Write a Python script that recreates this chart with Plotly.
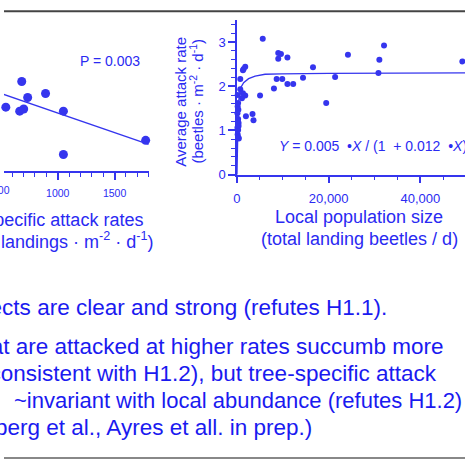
import plotly.graph_objects as go

# ---------------- data ----------------
# left panel (tree-specific attack rates vs. response; y axis lies outside the crop)
left_x = [500, 518, 544, 666, 684, 701, 736, 893, 1050, 1050, 1773]
left_y = [1.76, 0.90, 1.45, 1.36, 2.03, 1.41, 1.67, 1.76, 1.36, 0.38, 0.70]
left_line_x = [400, 1800]
left_line_y = [1.85, 0.61]

# right panel: local population size vs average attack rate
right_x = [5620, 9000, 9590, 9000, 11000, 16580, 1800, 1450, 1300, 720,
           8650, 9880, 11000, 12260, 14400, 8060, 720, 5030, 1800, 1080,
           150, 250, 1300, 150, 300, 100, 250, 200, 350, 100,
           250, 150, 300, 400, 350, -100, 1950, 3390, 3600,
           21400, 19460, 24200, 31050, 32070, 49150, 30850]
right_y = [3.07, 2.75, 2.73, 2.62, 2.65, 2.43, 2.44, 2.39, 2.36, 2.16,
           2.16, 2.16, 2.05, 2.05, 2.19, 1.95, 1.93, 1.79, 1.79, 1.73,
           1.80, 1.62, 1.84, 1.54, 1.47, 1.39, 1.26, 1.21, 1.17, 1.06,
           1.01, 0.91, 0.84, 0.82, 1.10, 0.52, 1.32, 1.37, 1.23,
           2.21, 1.62, 2.71, 2.60, 2.92, 2.56, 2.30]
curve_x = [0, 100, 300, 720, 1450, 2530, 3960, 6120, 9730, 20000, 50000]
curve_y = [0.0, 1.0, 1.6, 1.95, 2.08, 2.17, 2.23, 2.27, 2.28, 2.29, 2.30]

left_ticks = [500, 1000, 1500]
right_xticks = [0, 20000, 40000]
right_yticks = [0, 1, 2, 3]

bullet_lines = [
    "effects are clear and strong (refutes H1.1).",
    "that are attacked at higher rates succumb more",
    "(consistent with H1.2), but tree-specific attack",
    "~invariant with local abundance (refutes H1.2)",
    "berg et al., Ayres et all. in prep.)",
]

# ---------------- styling ----------------
W, H = 465, 467
FONT = "Arial, Liberation Sans, sans-serif"
BLUE = "#2a2af2"
MARK = "#3535ee"

def px(x):
    return x / W

def py(y):
    return 1 - y / H

fig = go.Figure()

fig.add_trace(go.Scatter(x=left_line_x, y=left_line_y, mode="lines",
                         line=dict(color=MARK, width=1.3),
                         xaxis="x", yaxis="y", showlegend=False, hoverinfo="skip"))
fig.add_trace(go.Scatter(x=left_x, y=left_y, mode="markers",
                         marker=dict(color=MARK, size=9),
                         cliponaxis=False, xaxis="x", yaxis="y", showlegend=False))
fig.add_trace(go.Scatter(x=curve_x, y=curve_y, mode="lines",
                         line=dict(color=MARK, width=1.3),
                         xaxis="x2", yaxis="y2", showlegend=False, hoverinfo="skip"))
fig.add_trace(go.Scatter(x=right_x, y=right_y, mode="markers",
                         marker=dict(color=MARK, size=6),
                         cliponaxis=False, xaxis="x2", yaxis="y2", showlegend=False))

axis_common = dict(showgrid=False, zeroline=False, showline=True,
                   linecolor=MARK, linewidth=1.5, ticks="outside",
                   tickcolor=MARK, tickwidth=1.5, ticklen=7)

fig.update_layout(
    width=W, height=H,
    margin=dict(l=0, r=0, t=0, b=0),
    paper_bgcolor="white", plot_bgcolor="white",
    xaxis=dict(domain=[0, px(146)], range=[528, 1800], anchor="y",
               tickvals=left_ticks, tickformat="d",
               minor=dict(ticks="outside", dtick=100, tick0=0, ticklen=4,
                          tickcolor=MARK, tickwidth=1.2),
               ticklabelstandoff=4,
               tickfont=dict(family=FONT, size=10.5, color=BLUE),
               **axis_common),
    yaxis=dict(domain=[py(174.3), py(20)], range=[0, 154.3 / 45], anchor="x",
               visible=False),
    xaxis2=dict(domain=[px(235), 1], range=[0, (465 - 235) / 92.5 * 20000], anchor="y2",
                tickvals=right_xticks, tickformat=",d",
                minor=dict(ticks="outside", dtick=5000, tick0=0, ticklen=4,
                           tickcolor=MARK, tickwidth=1.2),
                ticklabelstandoff=4,
                tickfont=dict(family=FONT, size=13, color=BLUE),
                **axis_common),
    yaxis2=dict(domain=[py(177.7), py(20.2)], range=[0, 3.5], anchor="x2",
                tickvals=right_yticks,
                minor=dict(ticks="outside", dtick=0.2, tick0=0, ticklen=4,
                           tickcolor=MARK, tickwidth=1.2),
                tickfont=dict(family=FONT, size=13, color=BLUE),
                **axis_common),
)

ann = []
def add_text(text, x, y, size, xanchor="center", yanchor="middle", color=BLUE, angle=0):
    ann.append(dict(text=text, x=px(x), y=py(y), xref="paper", yref="paper",
                    xanchor=xanchor, yanchor=yanchor, showarrow=False,
                    textangle=angle, font=dict(family=FONT, size=size, color=color)))

# partial tick label of the left axis
add_text("500", -3.1, 193, 10.5)
# left panel texts
add_text("P = 0.003", 75, 62, 14, xanchor="left")
add_text("Tree-specific attack rates", 142, 224, 18, xanchor="right")
add_text("(total landings · m<sup>-2</sup> · d<sup>-1</sup>)", 152, 245, 18, xanchor="right")
# right panel texts
add_text("Average attack rate", 178, 103, 15, angle=-90)
add_text("(beetles · m<sup>-2</sup> · d<sup>-1</sup>)", 194, 103, 15, angle=-90)
add_text("<i>Y</i> = 0.005 \u00a0•<i>X</i> / (1 \u00a0+ 0.012 \u00a0•<i>X</i>)", 275, 149, 14,
         xanchor="left")
add_text("Local population size", 358, 221, 18)
add_text("(total landing beetles / d)", 359, 243, 18)
# bullet text below
line_right = [388, 445.5, 439, 463.5, 313]
line_y = [313, 353, 380, 407, 435]
line_size = [22.5, 22.5, 22.5, 22, 22.5]
for t, xr, yy, sz in zip(bullet_lines, line_right, line_y, line_size):
    add_text(t, xr, yy, sz, xanchor="right", color="#1a1af0")

fig.update_layout(annotations=ann)

fig.update_layout(shapes=[
    dict(type="line", xref="paper", yref="paper", x0=0, x1=1, y0=py(11.5), y1=py(11.5),
         line=dict(color="#444444", width=2)),
    dict(type="line", xref="paper", yref="paper", x0=0, x1=1, y0=py(466), y1=py(466),
         line=dict(color="#888888", width=2)),
])

fig.write_html("out.html")
